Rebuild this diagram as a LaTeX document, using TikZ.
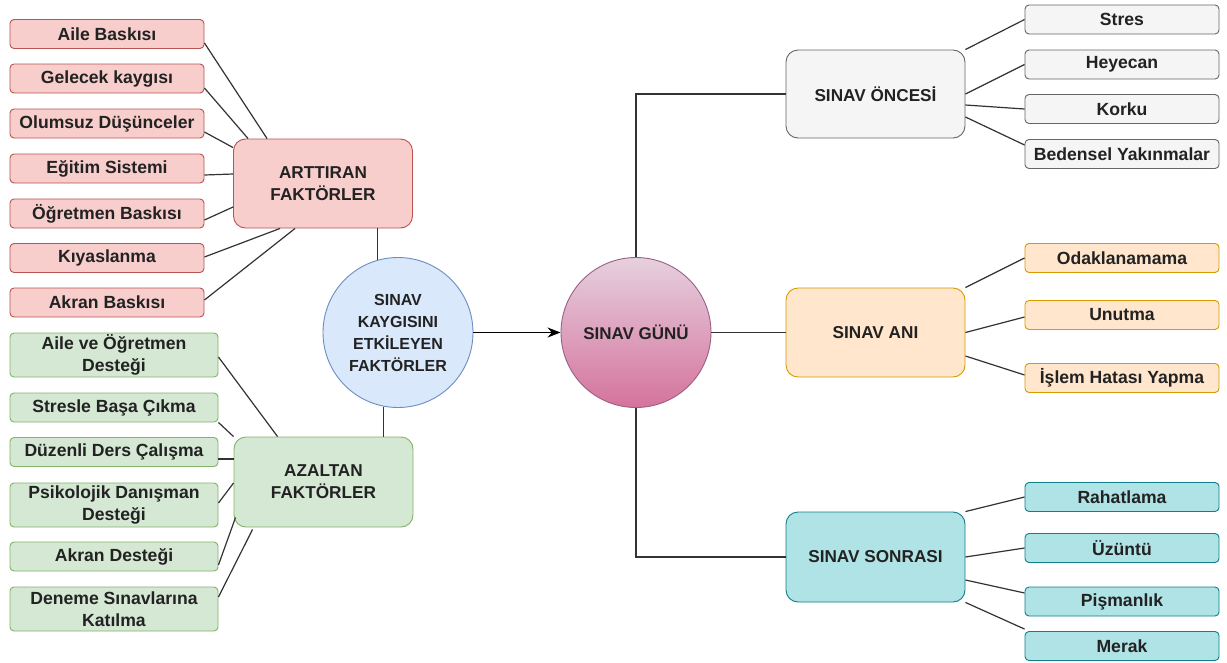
\documentclass[tikz,border=0pt]{standalone}
\usepackage{fontspec}
\setmainfont{Liberation Sans}
\usetikzlibrary{arrows.meta,calc}
\definecolor{pinkF}{HTML}{F8CECC}
\definecolor{pinkD}{HTML}{B85450}
\definecolor{greenF}{HTML}{D5E8D4}
\definecolor{greenD}{HTML}{82B366}
\definecolor{blueF}{HTML}{DAE8FC}
\definecolor{blueD}{HTML}{6C8EBF}
\definecolor{grayF}{HTML}{F5F5F5}
\definecolor{grayD}{HTML}{666666}
\definecolor{orangeF}{HTML}{FFE6CC}
\definecolor{orangeD}{HTML}{D79B00}
\definecolor{cyanF}{HTML}{B0E3E6}
\definecolor{cyanD}{HTML}{0E8088}
\definecolor{gunTop}{HTML}{E6D0DE}
\definecolor{gunBot}{HTML}{D5739D}
\definecolor{gunD}{HTML}{996185}
\definecolor{txt}{HTML}{222222}
\begin{document}
\begin{tikzpicture}[x=1pt,y=-1pt,
  leaf/.style={draw, rounded corners=4pt, minimum width=194pt, minimum height=29pt,
    inner sep=0pt, align=center, text=txt, font=\bfseries\fontsize{17.6}{22.5}\selectfont, line width=0.9pt},
  wideleaf/.style={leaf, minimum width=208pt},
  head/.style={draw, rounded corners=12pt, minimum width=179pt, minimum height=89pt,
    inner sep=0pt, align=center, text=txt, font=\bfseries\fontsize{17.2}{22}\selectfont, line width=0.9pt},
  hub/.style={circle, draw, minimum size=150pt, inner sep=0pt, align=center, text=txt,
    font=\bfseries\fontsize{16}{22}\selectfont, line width=0.9pt},
  pinkbox/.style={fill=pinkF, draw=pinkD},
  greenbox/.style={fill=greenF, draw=greenD},
  bluebox/.style={fill=blueF, draw=blueD},
  graybox/.style={fill=grayF, draw=grayD},
  orangebox/.style={fill=orangeF, draw=orangeD},
  cyanbox/.style={fill=cyanF, draw=cyanD},
  link/.style={draw=black!80, line width=1.2pt},
]
\useasboundingbox[fill=white] (0,0) rectangle (1227,662);

% left top
\node[leaf,pinkbox] (a1) at (107,34) {Aile Baskısı};
\node[leaf,pinkbox] (a2) at (107,78.5) {Gelecek kaygısı};
\node[leaf,pinkbox] (a3) at (107,123.5) {Olumsuz Düşünceler};
\node[leaf,pinkbox] (a4) at (107,168.5) {Eğitim Sistemi};
\node[leaf,pinkbox] (a5) at (107,213.5) {Öğretmen Baskısı};
\node[leaf,pinkbox] (a6) at (107,258) {Kıyaslanma};
\node[leaf,pinkbox] (a7) at (107,302.5) {Akran Baskısı};
\node[head,pinkbox] (art) at (323,183.5) {ARTTIRAN\\FAKTÖRLER};

\node[hub,bluebox] (K) at (398,332.5) {SINAV\\KAYGISINI\\ETKİLEYEN\\FAKTÖRLER};

% left bottom
\node[wideleaf,greenbox,minimum height=44pt] (g1) at (114,355) {Aile ve Öğretmen\\Desteği};
\node[wideleaf,greenbox] (g2) at (114,407.5) {Stresle Başa Çıkma};
\node[wideleaf,greenbox] (g3) at (114,452) {Düzenli Ders Çalışma};
\node[wideleaf,greenbox,minimum height=44pt] (g4) at (114,505) {Psikolojik Danışman\\Desteği};
\node[wideleaf,greenbox] (g5) at (114,556.5) {Akran Desteği};
\node[wideleaf,greenbox,minimum height=44pt] (g6) at (114,609) {Deneme Sınavlarına\\Katılma};
\node[head,greenbox,minimum height=90pt] (az) at (323.5,482) {AZALTAN\\FAKTÖRLER};

% center right
\node[hub,top color=gunTop,bottom color=gunBot,draw=gunD,font=\bfseries\fontsize{17}{22}\selectfont] (G) at (636,332.5) {SINAV GÜNÜ};
\node[head,graybox,minimum height=88pt] (pre) at (875.5,94) {SINAV ÖNCESİ};
\node[head,orangebox] (ani) at (875.5,332.5) {SINAV ANI};
\node[head,cyanbox,minimum height=90pt] (son) at (875.5,557) {SINAV SONRASI};

\node[leaf,graybox] (s1) at (1122,19.5) {Stres};
\node[leaf,graybox] (s2) at (1122,64.5) {Heyecan};
\node[leaf,graybox] (s3) at (1122,109) {Korku};
\node[leaf,graybox] (s4) at (1122,154) {Bedensel Yakınmalar};

\node[leaf,orangebox] (o1) at (1122,258) {Odaklanamama};
\node[leaf,orangebox] (o2) at (1122,315) {Unutma};
\node[leaf,orangebox] (o3) at (1122,378) {İşlem Hatası Yapma};

\node[leaf,cyanbox] (c1) at (1122,497) {Rahatlama};
\node[leaf,cyanbox] (c2) at (1122,548) {Üzüntü};
\node[leaf,cyanbox] (c3) at (1122,601.5) {Pişmanlık};
\node[leaf,cyanbox] (c4) at (1122,646) {Merak};

% connectors left top
\draw[link] ($(a1.east)+(0,9)$) -- ($(art.north west)+(34,0)$);
\draw[link] ($(a2.east)+(0,9.5)$) -- ($(art.north west)+(15,0)$);
\draw[link] ($(a3.east)+(0,8.5)$) -- ($(art.north west)+(0,9)$);
\draw[link] ($(a4.east)+(0,6.5)$) -- ($(art.west)+(0,-9.5)$);
\draw[link] ($(a5.east)+(0,6.5)$) -- ($(art.west)+(0,23.5)$);
\draw[link] ($(a6.east)+(0,-1)$) -- ($(art.south west)+(47,0)$);
\draw[link] ($(a7.east)+(0,-2.5)$) -- ($(art.south west)+(62,0)$);
\draw[link] (K.106) -- (K.106 |- art.south);

% connectors left bottom
\draw[link] ($(g1.east)+(0,2)$) -- ($(az.north west)+(44,0)$);
\draw[link] (g2.south east) -- (az.north west);
\draw[link] ($(g3.east)+(0,7)$) -- ($(az.west)+(0,-23)$);
\draw[link] ($(g4.east)+(0,-2)$) -- ($(az.west)+(0,1)$);
\draw[link] ($(g5.east)+(0,8.5)$) -- ($(az.south west)+(2,-10)$);
\draw[link] ($(g6.east)+(0,-12)$) -- ($(az.south west)+(19,2)$);
\draw[link] (K.259) -- (K.259 |- az.north);

% main arrow
\draw[draw=black, line width=1.3pt, -{Stealth[length=13pt,width=10pt]}] (K.east) -- (G.west);

% right trunk
\draw[link] (G.north) |- (pre.west);
\draw[link] (G.east) -- (ani.west);
\draw[link] (G.south) |- (son.west);

% right leaves
\draw[link] (pre.north east) -- (s1.west);
\draw[link] (pre.east) -- (s2.west);
\draw[link] ($(pre.east)+(0,11)$) -- (s3.west);
\draw[link] ($(pre.east)+(0,23)$) -- ($(s4.west)+(0,-9)$);
\draw[link] (ani.north east) -- (o1.west);
\draw[link] (ani.east) -- ($(o2.west)+(0,2)$);
\draw[link] ($(ani.east)+(0,23.5)$) -- ($(o3.west)+(0,-3)$);
\draw[link] (son.north east) -- (c1.west);
\draw[link] (son.east) -- (c2.west);
\draw[link] ($(son.east)+(0,23)$) -- ($(c3.west)+(0,-8.5)$);
\draw[link] (son.south east) -- ($(c4.north west)+(0,-2)$);
\end{tikzpicture}
\end{document}
